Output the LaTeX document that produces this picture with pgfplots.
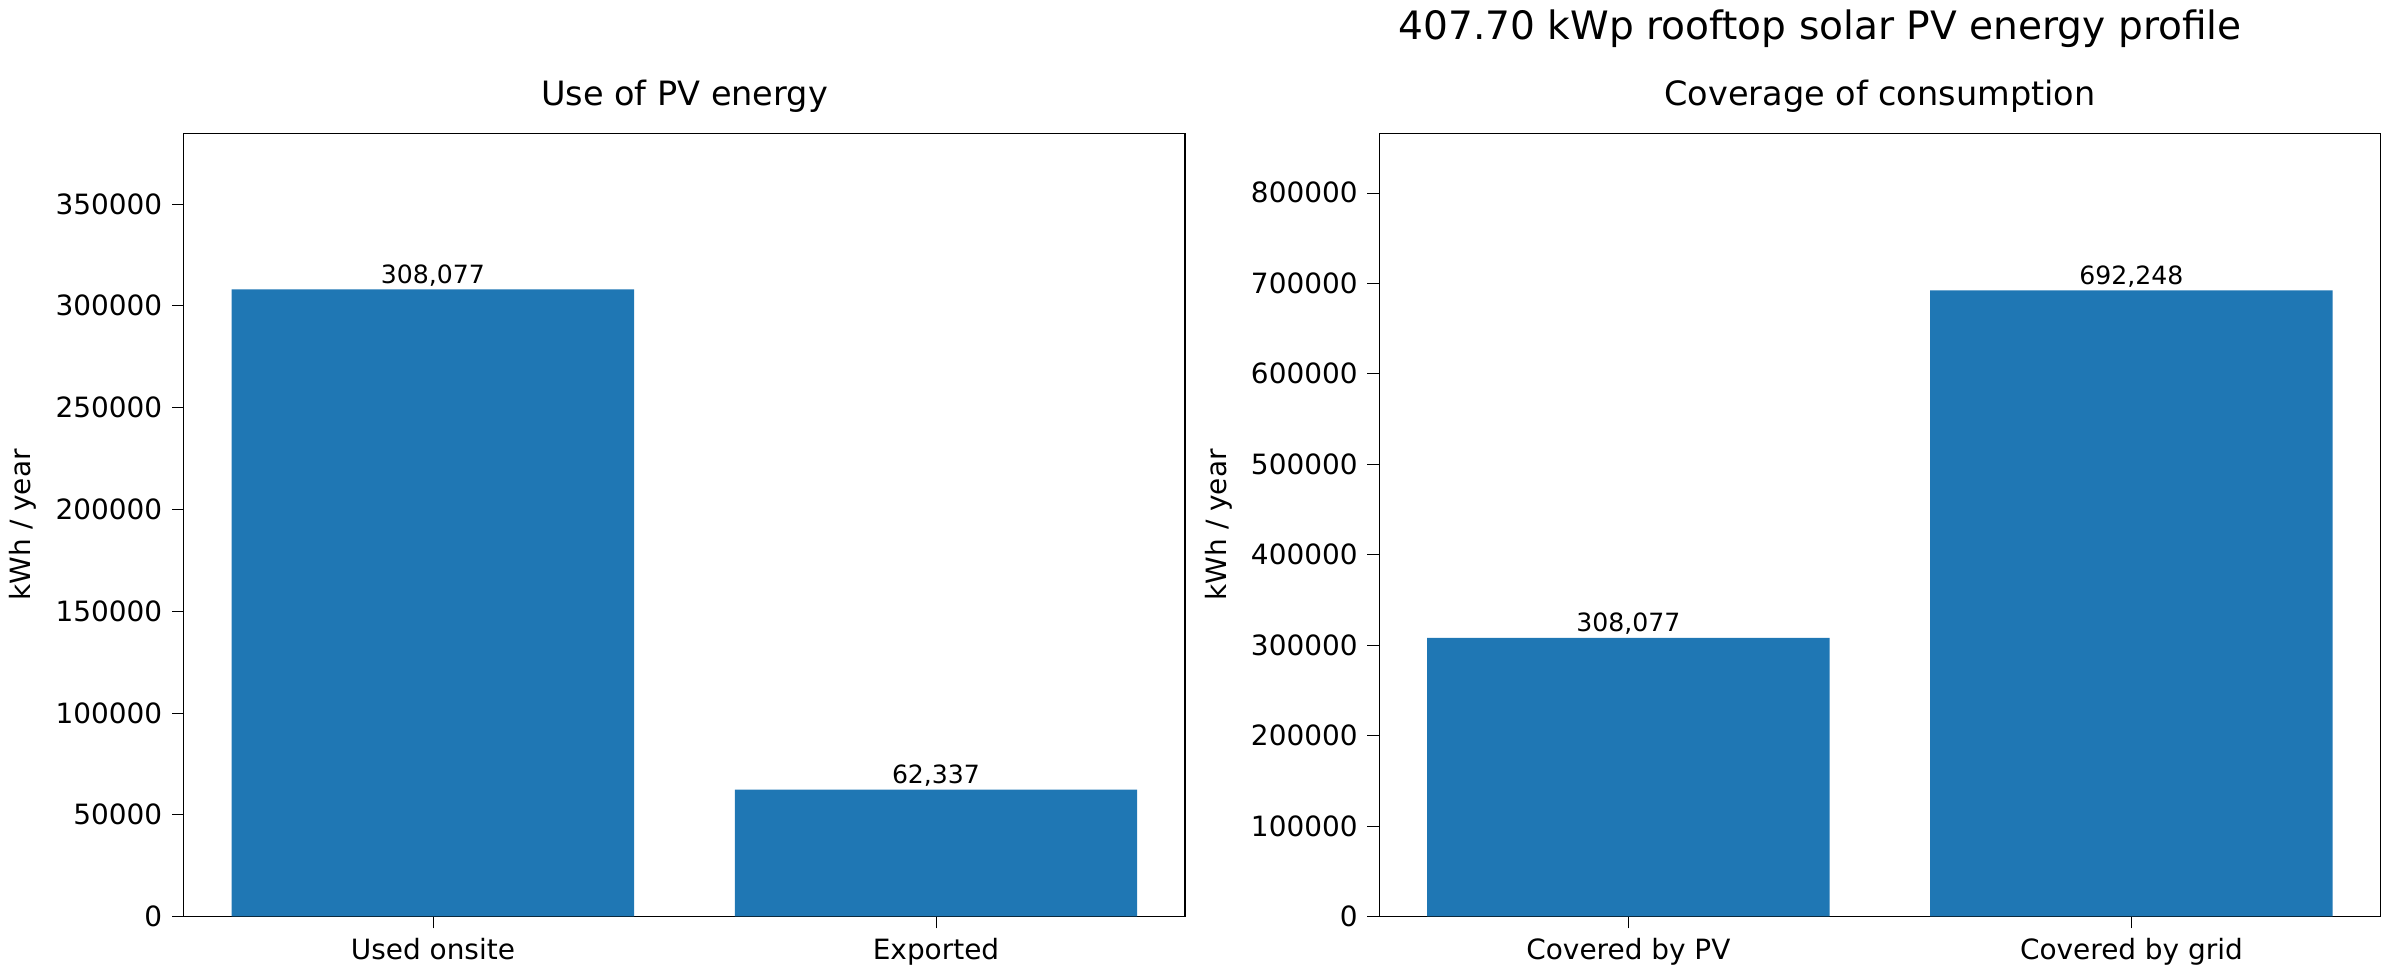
\documentclass[border=0pt]{standalone}
\usepackage{pgfplots}
\pgfplotsset{compat=1.18}
\usepackage{fontspec}
\setmainfont{DejaVu Sans}
\definecolor{mplblue}{HTML}{1F77B4}
\pgfplotsset{
  myax/.style={
    width=358.4pt, height=280.4pt, scale only axis,
    xmin=-0.495, xmax=1.495, ymin=0,
    xtick=data,
    scaled y ticks=false,
    /pgf/number format/assume math mode=true,
    yticklabel style={/pgf/number format/.cd, fixed, 1000 sep={}},
    tick label style={font=\fontsize{10}{12}\selectfont},
    ylabel style={font=\fontsize{10}{12}\selectfont},
    title style={font=\fontsize{12}{14}\selectfont, yshift=-2pt},
    tick align=outside, xtick style={black}, ytick style={black},
    tick pos=left,
    ylabel={kWh / year},
    nodes near coords,
    every node near coord/.append style={font=\fontsize{9}{10}\selectfont, anchor=south, inner sep=1pt,
      /pgf/number format/.cd, fixed, 1000 sep={,}, assume math mode=true},
  }
}
\begin{document}
\begin{tikzpicture}
\begin{axis}[myax, at={(0,0)}, ymax=384750, ytick={0,50000,100000,150000,200000,250000,300000,350000},
  xticklabels={Used onsite, Exported}, title={Use of PV energy}]
\addplot[ybar, bar width=0.8, fill=mplblue, draw=none] coordinates {(0,308077) (1,62337)};
\end{axis}
\begin{axis}[myax, at={(428pt,0)}, ymax=865823, ytick={0,100000,200000,300000,400000,500000,600000,700000,800000},
  xticklabels={Covered by PV, Covered by grid}, title={Coverage of consumption}]
\addplot[ybar, bar width=0.8, fill=mplblue, draw=none] coordinates {(0,308077) (1,692248)};
\end{axis}
\node[font=\fontsize{14}{16}\selectfont] at (585.8pt,318pt) {407.70 kWp rooftop solar PV energy profile};
\end{tikzpicture}
\end{document}
